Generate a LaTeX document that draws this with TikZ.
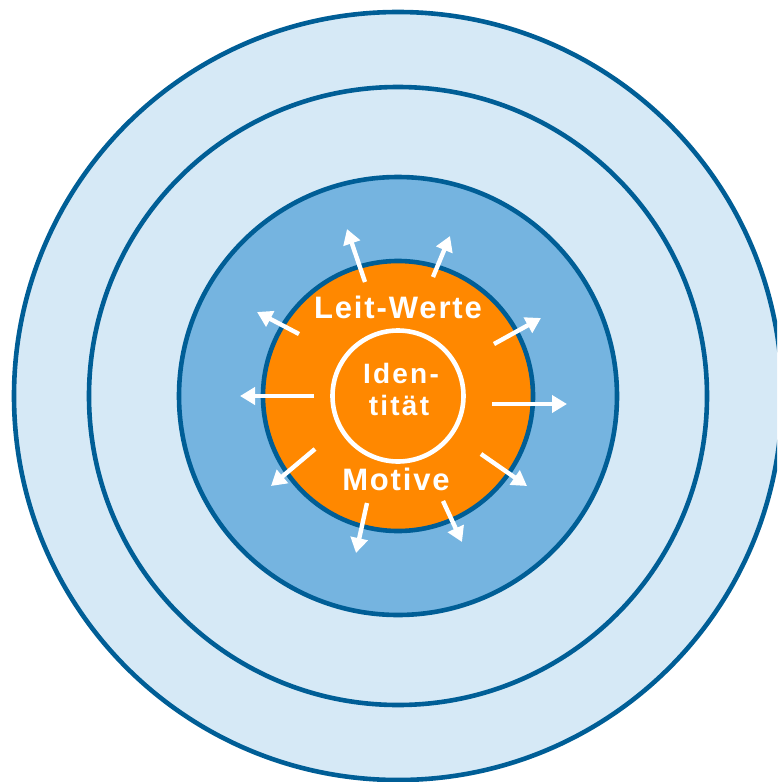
\documentclass[tikz,border=0pt]{standalone}
\usepackage{fontspec}
\setmainfont{Liberation Sans}
\usetikzlibrary{arrows.meta}
\definecolor{lightblue}{RGB}{214,233,246}
\definecolor{midblue}{RGB}{117,180,224}
\definecolor{ringblue}{RGB}{0,94,150}
\definecolor{core}{RGB}{255,136,0}
\tikzset{
  ring/.style={circle, draw=ringblue, line width=4.6pt, inner sep=0pt},
  outarrow/.style={white, line width=4.4pt, -{Triangle[width=17pt,length=15pt]}},
  lbl/.style={text=white, font=\bfseries\fontsize{31}{32}\selectfont\addfontfeature{LetterSpace=6}, anchor=base, inner sep=0pt},
  idlbl/.style={text=white, font=\bfseries\fontsize{28}{30}\selectfont\addfontfeature{LetterSpace=8}, anchor=base, inner sep=0pt}
}
\begin{document}
\begin{tikzpicture}[x=1pt,y=-1pt]
\useasboundingbox (0,0) rectangle (777,782);
\clip (0,0) rectangle (777,782);
\node[ring, fill=lightblue, minimum size=768pt] (r1) at (398,396) {};
\node[ring, fill=lightblue, minimum size=618pt] (r2) at (398,396) {};
\node[ring, fill=midblue, minimum size=438pt] (r3) at (398,396) {};
\node[ring, fill=core, minimum size=270pt] (r4) at (398,396) {};
\node[circle, draw=white, line width=4.6pt, minimum size=131pt, inner sep=0pt] (id) at (398,396) {};
\node[lbl] (lw) at (398,318) {Leit-Werte};
\node[lbl] (mo) at (396,490) {Motive};
\node[idlbl] (id1) at (401,383) {Iden-};
\node[idlbl] (id2) at (399,415) {tität};
\coordinate (s1) at (365,282); \coordinate (e1) at (347,229);
\coordinate (s2) at (433,277); \coordinate (e2) at (450,236);
\coordinate (s3) at (299,334); \coordinate (e3) at (257,312);
\coordinate (s4) at (494,344); \coordinate (e4) at (541,318);
\coordinate (s5) at (314,396); \coordinate (e5) at (240,396);
\coordinate (s6) at (492,404); \coordinate (e6) at (567,404);
\coordinate (s7) at (315,449); \coordinate (e7) at (271,486);
\coordinate (s8) at (481,454); \coordinate (e8) at (527,486);
\coordinate (s9) at (367,503); \coordinate (e9) at (356,553);
\coordinate (s10) at (443,501); \coordinate (e10) at (462,542);
\foreach \i in {1,...,10} { \draw[outarrow] (s\i) -- (e\i); }
\end{tikzpicture}
\end{document}
